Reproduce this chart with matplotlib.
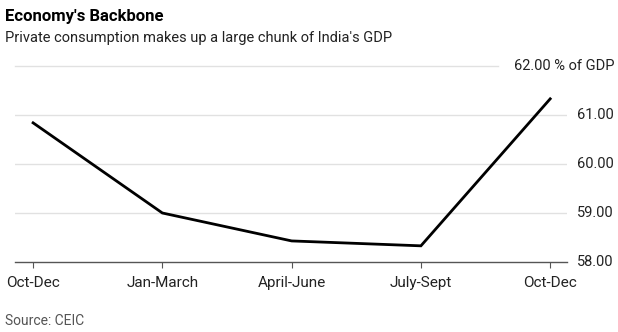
import matplotlib
matplotlib.use("Agg")
import matplotlib.pyplot as plt

plt.rcParams['font.family'] = ['Roboto', 'DejaVu Sans']

categories = ["Oct-Dec", "Jan-March", "April-June", "July-Sept", "Oct-Dec"]
values = [60.84, 59.0, 58.43, 58.33, 61.33]
yticks = [58, 59, 60, 61, 62]
ytick_labels = ["58.00", "59.00", "60.00", "61.00", "62.00 % of GDP"]

W, H = 618, 332
fig = plt.figure(figsize=(W / 100, H / 100), dpi=100)
left, right, top, bottom = 15, 567, 66, 262
ax = fig.add_axes([left / W, 1 - bottom / H, (right - left) / W, (bottom - top) / H])

x = list(range(len(categories)))
ax.set_xlim(-0.14, 4.13)
ax.set_ylim(58, 62)

# gridlines
for yv in yticks[1:-1]:
    ax.axhline(yv, color="#e1e1e1", lw=1.0, zorder=1)
ax.plot([-0.14, 3.6], [62, 62], color="#e1e1e1", lw=1.0, zorder=1, clip_on=False)

ax.plot(x, values, color="black", lw=2.0, solid_joinstyle="miter", zorder=3)

for s in ["top", "right", "left"]:
    ax.spines[s].set_visible(False)
ax.spines["bottom"].set_color("#555555")
ax.spines["bottom"].set_linewidth(1.0)

ax.set_xticks(x)
ax.set_xticklabels(categories, fontsize=11, color="#222222")
ax.tick_params(axis="x", length=4, width=0.8, color="#555555", pad=6)
ax.set_yticks([])

for yv, lab in zip(yticks, ytick_labels):
    if yv == 62:
        fig.text(615 / W, 1 - 66 / H, lab, ha="right", va="center", fontsize=10.5, color="#222222")
    else:
        ax.text(1.0 + 10 / (right - left), yv, lab, transform=ax.get_yaxis_transform(),
                ha="left", va="center", fontsize=10.5, color="#222222")

fig.text(5 / W, 1 - 16 / H, "Economy's Backbone", fontsize=12, fontweight="bold",
         ha="left", va="center", color="black")
fig.text(5 / W, 1 - 38 / H, "Private consumption makes up a large chunk of India's GDP",
         fontsize=10.5, ha="left", va="center", color="#222222")
fig.text(5 / W, 1 - 321 / H, "Source: CEIC", fontsize=10, ha="left", va="center", color="#555555")

fig.savefig("out.png", dpi=100)
